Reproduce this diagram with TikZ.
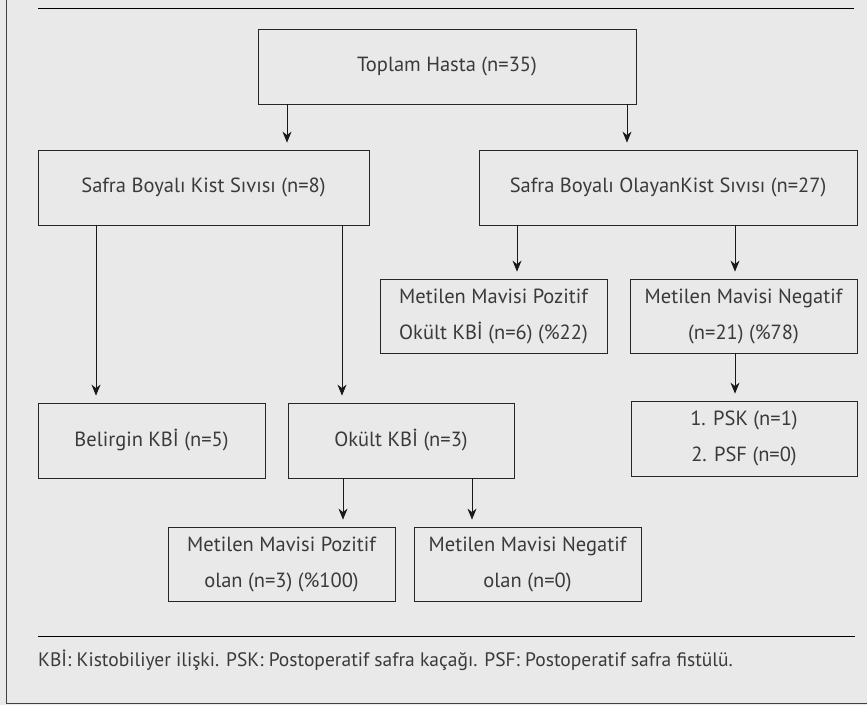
\documentclass[tikz,border=0pt]{standalone}
\usepackage{fontspec}
\setmainfont{PT Sans}
\usetikzlibrary{arrows.meta}
\definecolor{pagegray}{HTML}{E9E9E9}
\definecolor{inkgray}{HTML}{3A3A3A}
\tikzset{
  kutu/.style={draw=black!85, line width=0.8pt, text=inkgray, align=center,
    inner sep=0pt, font=\fontsize{20.5}{36}\selectfont},
  ok/.style={->, line width=0.8pt, draw=black!90, shorten >=7pt}
}
\begin{document}
\begin{tikzpicture}[x=1pt,y=-1pt,>={Stealth[length=11pt,width=9pt,inset=3.5pt]}]

  % Page
  \fill[pagegray] (0,0) rectangle (867,705);
  \useasboundingbox (0,0) rectangle (867,705);
  \draw[line width=1pt, black!75] (6,0) -- (6,703) -- (867,703);
  \draw[line width=0.9pt] (38,8) -- (854,8);
  \draw[line width=0.9pt] (38,636) -- (855,636);

  % Boxes
  \node[kutu, minimum width=378, minimum height=75] (toplam) at (447,66.5) {Toplam Hasta (n=35)};
  \node[kutu, minimum width=331, minimum height=75] (safraA) at (203.5,187.5) {Safra Boyalı Kist Sıvısı (n=8)};
  \node[kutu, minimum width=378, minimum height=75] (safraB) at (668,187.5) {Safra Boyalı OlayanKist Sıvısı (n=27)};
  \node[kutu, minimum width=227, minimum height=74] (mmpA) at (493.5,316) {Metilen Mavisi Pozitif\\Okült KBİ (n=6) (\%22)};
  \node[kutu, minimum width=227, minimum height=74] (mmnA) at (743.5,316) {Metilen Mavisi Negatif\\(n=21) (\%78)};
  \node[kutu, minimum width=226, minimum height=75] (psk) at (744,438.5) {1. PSK (n=1)\\2. PSF (n=0)};
  \node[kutu, minimum width=227, minimum height=75] (belirgin) at (151.5,440.5) {Belirgin KBİ (n=5)};
  \node[kutu, minimum width=226, minimum height=75] (okult) at (401,440.5) {Okült KBİ (n=3)};
  \node[kutu, minimum width=227, minimum height=74] (mmpB) at (281.5,564) {Metilen Mavisi Pozitif\\olan (n=3) (\%100)};
  \node[kutu, minimum width=227, minimum height=74] (mmnB) at (527.5,564) {Metilen Mavisi Negatif\\olan (n=0)};

  % Arrow columns
  \coordinate (a1) at (287,0);
  \coordinate (a2) at (627,0);
  \coordinate (b1) at (96,0);
  \coordinate (b2) at (342,0);
  \coordinate (c1) at (517,0);
  \coordinate (c2) at (735,0);
  \coordinate (e1) at (343,0);
  \coordinate (e2) at (472,0);

  % Arrows
  \draw[ok] (toplam.south -| a1) -- (safraA.north -| a1);
  \draw[ok] (toplam.south -| a2) -- (safraB.north -| a2);
  \draw[ok] (safraA.south -| b1) -- (belirgin.north -| b1);
  \draw[ok] (safraA.south -| b2) -- (okult.north -| b2);
  \draw[ok] (safraB.south -| c1) -- (mmpA.north -| c1);
  \draw[ok] (safraB.south -| c2) -- (mmnA.north -| c2);
  \draw[ok] (mmnA.south -| c2) -- (psk.north -| c2);
  \draw[ok] (okult.south -| e1) -- (mmpB.north -| e1);
  \draw[ok] (okult.south -| e2) -- (mmnB.north -| e2);

  % Footnote
  \node[anchor=west, inner sep=0pt, text=inkgray, font=\fontsize{19.5}{22}\selectfont] (dipnot) at (38,660)
    {KBİ: Kistobiliyer ilişki. PSK: Postoperatif safra kaçağı. PSF: Postoperatif safra fistülü.};
\end{tikzpicture}
\end{document}
